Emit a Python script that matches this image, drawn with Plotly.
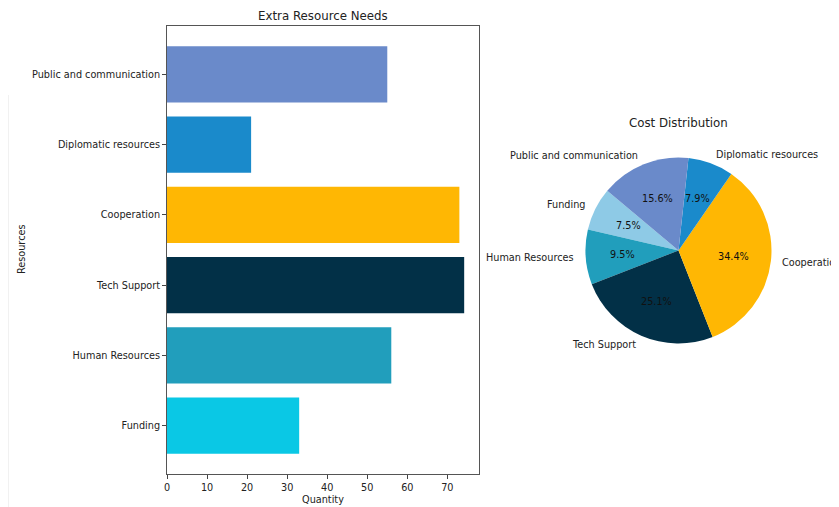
import numpy as np
import plotly.graph_objects as go

categories = ["Funding", "Human Resources", "Tech Support", "Cooperation",
              "Diplomatic resources", "Public and communication"]
quantities = [33, 56, 74.2, 73, 21, 55]
cost_share = [7.5, 9.5, 25.1, 34.4, 7.9, 15.6]
bar_colors = ["#0AC8E5", "#219EBC", "#023047", "#FFB703", "#1A8ACB", "#6A8ACA"]
pie_colors = ["#8ECAE6", "#219EBC", "#023047", "#FFB703", "#1A8ACB", "#6A8ACA"]
x_ticks = [0, 10, 20, 30, 40, 50, 60, 70]

# page has an 8px body margin: figure is drawn from (8,8) of the window
OFF = 8
W, H = 839 - OFF, 507 - OFF
FONT = "DejaVu Sans"
TXT = "#222"


def px(x):
    return (x - OFF) / W


def py(y):
    return 1 - (y - OFF) / H


fig = go.Figure()
fig.add_trace(go.Bar(
    y=categories, x=quantities, orientation="h",
    marker=dict(color=bar_colors, line=dict(width=0)),
    width=0.8, showlegend=False, hoverinfo="x+y",
))

# pie geometry (window pixels)
CX, CY, R = 678.5, 250.5, 93
START = 140  # degrees, counterclockwise from 3 o'clock
vals = np.array(cost_share, dtype=float)
frac = vals / vals.sum()
# plotly (counterclockwise): first slice ends at `rotation` (clockwise from 12 o'clock)
rotation = 90 - START - 360 * frac[0]

fig.add_trace(go.Pie(
    labels=categories, values=cost_share, sort=False,
    direction="counterclockwise", rotation=rotation,
    marker=dict(colors=pie_colors, line=dict(width=0)),
    textinfo="none",
    domain=dict(x=[px(CX - R), px(CX + R)], y=[py(CY + R), py(CY - R)]),
    showlegend=False,
))

# pie texts placed like matplotlib: labels at 1.1R, percentages at 0.6R
edges = START + 360 * np.concatenate([[0], np.cumsum(frac)])
mids = np.deg2rad((edges[:-1] + edges[1:]) / 2)
annotations = []
for lab, f, th in zip(categories, frac, mids):
    c, s = np.cos(th), np.sin(th)
    annotations.append(dict(
        text=lab, x=px(CX + 1.1 * R * c), y=py(CY - 1.1 * R * s),
        xref="paper", yref="paper", showarrow=False,
        xanchor="left" if c > 0 else "right", yanchor="middle",
        font=dict(size=9.7, color=TXT)))
    annotations.append(dict(
        text=f"{f * 100:.1f}%", x=px(CX + 0.6 * R * c), y=py(CY - 0.6 * R * s),
        xref="paper", yref="paper", showarrow=False,
        xanchor="center", yanchor="middle",
        font=dict(size=9.7, color="#111")))

annotations += [
    dict(text="Extra Resource Needs", x=px(323), y=py(16), xref="paper", yref="paper",
         showarrow=False, font=dict(size=11.8, color=TXT), xanchor="center", yanchor="middle"),
    dict(text="Cost Distribution", x=px(678), y=py(123), xref="paper", yref="paper",
         showarrow=False, font=dict(size=11.8, color=TXT), xanchor="center", yanchor="middle"),
    dict(text="Resources", x=px(21), y=py(250), xref="paper", yref="paper", textangle=-90,
         showarrow=False, font=dict(size=9.7, color=TXT), xanchor="center", yanchor="middle"),
    dict(text="Quantity", x=px(323), y=py(499), xref="paper", yref="paper",
         showarrow=False, font=dict(size=9.7, color=TXT), xanchor="center", yanchor="middle"),
]

fig.update_layout(
    width=W, height=H,
    margin=dict(l=0, r=0, t=0, b=0, autoexpand=False),
    paper_bgcolor="white", plot_bgcolor="white",
    font=dict(family=FONT, size=9.7, color=TXT),
    xaxis=dict(
        domain=[px(167), px(479)], range=[0, 77.9], automargin=False,
        tickvals=x_ticks, ticks="outside", ticklen=4, tickcolor="#444",
        showgrid=False, zeroline=False,
        showline=True, linecolor="#555", linewidth=1, mirror=True,
        tickfont=dict(size=9.7),
    ),
    yaxis=dict(
        domain=[py(474), py(26)], range=[-0.69, 5.69], automargin=False,
        ticks="outside", ticklen=4, tickcolor="#444",
        showgrid=False, zeroline=False,
        showline=True, linecolor="#555", linewidth=1, mirror=True,
        categoryorder="array", categoryarray=categories,
        tickfont=dict(size=9.7),
    ),
    annotations=annotations,
    shapes=[
        dict(type="line", xref="paper", yref="paper", x0=px(8), x1=px(8), y0=0, y1=py(95),
             line=dict(color="#e4e4e4", width=1)),
    ],
)

fig.write_html("out.html")
